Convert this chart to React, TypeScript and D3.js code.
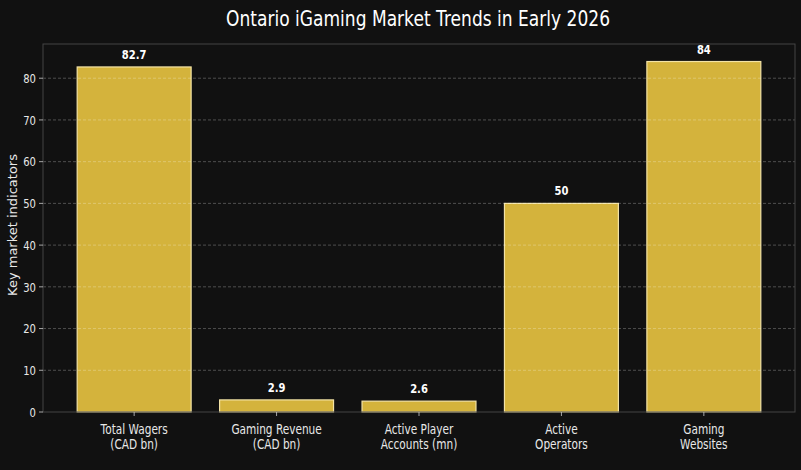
import React, { useEffect, useRef } from 'react';
import * as d3 from 'd3';

const categories = [
  ['Total Wagers', '(CAD bn)'],
  ['Gaming Revenue', '(CAD bn)'],
  ['Active Player', 'Accounts (mn)'],
  ['Active', 'Operators'],
  ['Gaming', 'Websites'],
];
const values = [82.7, 2.9, 2.6, 50, 84];
const valueLabels = ['82.7', '2.9', '2.6', '50', '84'];
const yTicks = [0, 10, 20, 30, 40, 50, 60, 70, 80];

const W = 801;
const H = 470;
const font = "'DejaVu Sans', sans-serif";
// the picture is narrower than the type, so text is squeezed sideways
const squeeze = 0.77;

export default function App() {
  const svgRef = useRef<SVGSVGElement>(null);

  useEffect(() => {
    if (!svgRef.current) return;
    const svg = d3.select(svgRef.current);
    svg.selectAll('*').remove();

    const left = 43, right = 795, top = 44, bottom = 412;

    const narrow = (sel: d3.Selection<SVGTextElement, any, any, any>, k = squeeze) => {
      sel.each(function () {
        const len = this.getComputedTextLength();
        d3.select(this).attr('textLength', len * k).attr('lengthAdjust', 'spacingAndGlyphs');
      });
    };

    svg.append('rect').attr('width', W).attr('height', H).attr('fill', '#111111');

    const x = d3.scaleLinear().domain([-0.64, categories.length - 1 + 0.64]).range([left, right]);
    const y = d3.scaleLinear().domain([0, 88.2]).range([bottom, top]);
    const barW = x(0.4) - x(-0.4);

    // bars
    svg.append('g')
      .selectAll('rect')
      .data(values)
      .enter()
      .append('rect')
      .attr('x', (d, i) => x(i) - barW / 2)
      .attr('width', barW)
      .attr('y', d => y(d))
      .attr('height', d => bottom - y(d))
      .attr('fill', '#d4b33c')
      .attr('stroke', '#f3e3a6')
      .attr('stroke-width', 1.2);

    // grid, drawn over the bars
    svg.append('g')
      .selectAll('line')
      .data(yTicks.slice(1))
      .enter()
      .append('line')
      .attr('x1', left)
      .attr('x2', right)
      .attr('y1', d => y(d))
      .attr('y2', d => y(d))
      .attr('stroke', '#ffffff')
      .attr('stroke-opacity', 0.33)
      .attr('stroke-width', 0.8)
      .attr('stroke-dasharray', '3,2');

    // value labels
    const vl = svg.append('g')
      .selectAll('text')
      .data(values)
      .enter()
      .append('text')
      .attr('x', (d, i) => x(i))
      .attr('y', d => y(d) - 8)
      .attr('text-anchor', 'middle')
      .style('font-family', font)
      .style('font-size', '13px')
      .style('font-weight', 'bold')
      .style('fill', '#ffffff')
      .text((d, i) => valueLabels[i]);
    narrow(vl as any);

    // frame
    svg.append('rect')
      .attr('x', left)
      .attr('y', top)
      .attr('width', right - left)
      .attr('height', bottom - top)
      .attr('fill', 'none')
      .attr('stroke', '#444444')
      .attr('stroke-width', 1);

    // y axis ticks
    const yAxis = svg.append('g');
    yTicks.forEach(t => {
      yAxis.append('line')
        .attr('x1', left - 4).attr('x2', left)
        .attr('y1', y(t)).attr('y2', y(t))
        .attr('stroke', '#cccccc').attr('stroke-width', 0.8);
      const lbl = yAxis.append('text')
        .attr('x', left - 7)
        .attr('y', y(t))
        .attr('dy', '0.36em')
        .attr('text-anchor', 'end')
        .style('font-family', font)
        .style('font-size', '13px')
        .style('fill', '#e8e8e8')
        .text(t);
      narrow(lbl as any);
    });

    // x axis ticks
    const xAxis = svg.append('g');
    categories.forEach((lines, i) => {
      xAxis.append('line')
        .attr('x1', x(i)).attr('x2', x(i))
        .attr('y1', bottom).attr('y2', bottom + 4)
        .attr('stroke', '#cccccc').attr('stroke-width', 0.8);
      lines.forEach((line, j) => {
        const t = xAxis.append('text')
          .attr('x', x(i))
          .attr('y', bottom + 22 + j * 14.5)
          .attr('text-anchor', 'middle')
          .style('font-family', font)
          .style('font-size', '13.5px')
          .style('fill', '#e8e8e8')
          .text(line);
        narrow(t as any, 0.78);
      });
    });

    // y label
    svg.append('text')
      .attr('transform', `translate(17, ${(top + bottom) / 2 - 3}) rotate(-90)`)
      .attr('text-anchor', 'middle')
      .style('font-family', font)
      .style('font-size', '13px')
      .style('fill', '#e8e8e8')
      .text('Key market indicators');

    // title
    svg.append('text')
      .attr('x', 418)
      .attr('y', 26)
      .attr('text-anchor', 'middle')
      .attr('textLength', 384)
      .attr('lengthAdjust', 'spacingAndGlyphs')
      .style('font-family', font)
      .style('font-size', '21px')
      .style('fill', '#ffffff')
      .text('Ontario iGaming Market Trends in Early 2026');
  }, []);

  return (
    <div style={{ position: 'absolute', left: 0, top: 0, background: '#111111', width: W, height: H }}>
      <svg ref={svgRef} width={W} height={H} style={{ display: 'block' }}></svg>
    </div>
  );
}
